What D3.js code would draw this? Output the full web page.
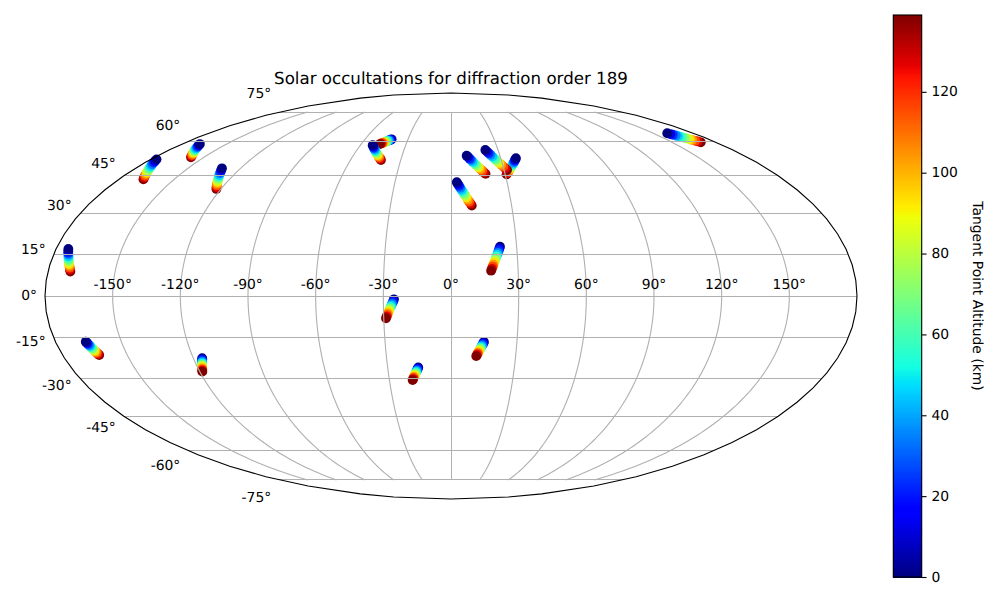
<!DOCTYPE html>
<html><head><meta charset="utf-8">
<script src="https://cdn.jsdelivr.net/npm/d3@7"></script>
<style>html,body{margin:0;padding:0;background:#fff}text{font-family:"DejaVu Sans";fill:#000;text-rendering:geometricPrecision}</style>
</head><body><svg id="c" width="1000" height="600"></svg>
<script>
const chartTitle = "Solar occultations for diffraction order 189";
const colorbarLabel = "Tangent Point Altitude (km)";
const longitudeTicks = [-150,-120,-90,-60,-30,0,30,60,90,120,150];
const latitudeTicks = [-75,-60,-45,-30,-15,0,15,30,45,60,75];
const colorbarTicks = [0,20,40,60,80,100,120];
const altitudeMax = 139;
const altitudes = [0,12,23,35,46,58,70,81,93,104,116,128,139];
const trackLon = [
[-176.5,-175.7,-174.9,-174.1,-173.2,-172.4,-171.6,-170.8,-170,-169.2,-168.3,-167.5,-166.7],
[-167.9,-167.1,-166.2,-165.4,-164.6,-163.7,-162.9,-162.1,-161.2,-160.4,-159.6,-158.7,-157.9],
[-130.6,-129.9,-129.2,-128.6,-127.9,-127.2,-126.5,-125.8,-125.1,-124.5,-123.8,-123.1,-122.4],
[-41.4,-41.9,-42.4,-42.9,-43.4,-43.9,-44.5,-45,-45.5,-46,-46.5,-47,-47.5],
[-51.9,-51.1,-50.2,-49.4,-48.5,-47.7,-46.9,-46,-45.2,-44.3,-43.5,-42.6,-41.8],
[9.6,10.4,11.2,12,12.8,13.6,14.4,15.2,16,16.8,17.6,18.4,19.2],
[39.2,38.5,37.8,37.1,36.4,35.7,35,34.3,33.6,32.9,32.2,31.5,30.8],
[21.9,22.7,23.5,24.4,25.2,26,26.8,27.6,28.4,29.2,30.1,30.9,31.7],
[3.1,3.7,4.3,4.9,5.5,6.1,6.7,7.3,7.9,8.5,9.1,9.7,10.3],
[160.4,161.2,161.9,162.7,163.4,164.2,165,165.7,166.5,167.2,168,168.7,169.5],
[-174.4,-174,-173.7,-173.3,-172.9,-172.6,-172.2,-171.8,-171.5,-171.1,-170.7,-170.4,-170],
[-166.2,-165.9,-165.7,-165.4,-165.1,-164.9,-164.6,-164.3,-164.1,-163.8,-163.5,-163.3,-163],
[-115.9,-116.1,-116.4,-116.6,-116.9,-117.1,-117.4,-117.6,-117.8,-118.1,-118.3,-118.6,-118.8],
[22.4,22,21.7,21.3,20.9,20.5,20.2,19.8,19.4,19,18.7,18.3,17.9],
[-25.3,-25.6,-25.9,-26.2,-26.5,-26.8,-27.2,-27.5,-27.8,-28.1,-28.4,-28.7,-29],
[15,14.7,14.5,14.2,13.9,13.6,13.4,13.1,12.8,12.5,12.3,12,11.7],
[-15.5,-15.8,-16,-16.3,-16.6,-16.8,-17.1,-17.4,-17.6,-17.9,-18.2,-18.4,-18.7]
];
const trackLat = [
[51.9,51.2,50.5,49.8,49.1,48.4,47.8,47.1,46.4,45.7,45,44.3,43.6],
[58.7,58.2,57.7,57.2,56.7,56.2,55.7,55.3,54.8,54.3,53.8,53.3,52.8],
[48.1,47.4,46.7,46,45.3,44.6,43.9,43.2,42.5,41.8,41.1,40.4,39.7],
[60.9,60.7,60.5,60.4,60.2,60,59.8,59.6,59.4,59.3,59.1,58.9,58.7],
[58.2,57.7,57.1,56.6,56,55.5,54.9,54.4,53.8,53.3,52.7,52.2,51.6],
[53.5,52.9,52.2,51.6,50.9,50.3,49.6,49,48.4,47.7,47.1,46.4,45.8],
[52.4,51.8,51.3,50.7,50.1,49.6,49,48.4,47.9,47.3,46.7,46.2,45.6],
[56,55.3,54.6,53.9,53.1,52.4,51.7,51,50.3,49.6,48.8,48.1,47.4],
[42.4,41.6,40.9,40.1,39.3,38.6,37.8,37,36.3,35.5,34.7,34,33.2],
[63.8,63.4,63.1,62.7,62.4,62,61.6,61.3,60.9,60.6,60.2,59.9,59.5],
[17,16.3,15.6,15,14.3,13.6,12.9,12.2,11.5,10.9,10.2,9.5,8.8],
[-16.5,-16.9,-17.3,-17.7,-18.1,-18.5,-19,-19.4,-19.8,-20.2,-20.6,-21,-21.4],
[-22.6,-23,-23.4,-23.9,-24.3,-24.7,-25.1,-25.5,-25.9,-26.4,-26.8,-27.2,-27.6],
[17.8,17.1,16.4,15.6,14.9,14.2,13.5,12.7,12,11.3,10.6,9.8,9.1],
[-1.2,-1.8,-2.3,-2.9,-3.5,-4,-4.6,-5.2,-5.7,-6.3,-6.9,-7.4,-8],
[-16.6,-17,-17.5,-17.9,-18.3,-18.8,-19.2,-19.6,-20.1,-20.5,-20.9,-21.4,-21.8],
[-26,-26.4,-26.8,-27.2,-27.6,-28,-28.4,-28.8,-29.2,-29.6,-30,-30.4,-30.8]
];
// 1 when a track was recorded from high to low altitude (low altitude ends up on top)
const topDown = [1,1,1,0,1,1,1,1,1,1,1,1,0,0,0,0,0];

const R = d3.scaleLinear().domain([0,.35,.66,.89,1]).range([0,0,1,1,.5]);
const G = d3.scaleLinear().domain([0,.125,.375,.64,.91,1]).range([0,0,1,1,0,0]);
const B = d3.scaleLinear().domain([0,.11,.34,.65,1]).range([.5,1,1,0,0]);
const norm = d3.scaleLinear().domain([0,altitudeMax]).range([0,1]).clamp(true);
const jet = a => { const t = norm(a); return d3.rgb(R(t)*255,G(t)*255,B(t)*255).formatHex(); };

function mollweideRaw(l, p) {
  let t = p;
  if (Math.abs(Math.abs(p) - Math.PI/2) < 1e-9) t = p;
  else for (let i = 0; i < 40; i++) {
    const d = (2*t + Math.sin(2*t) - Math.PI*Math.sin(p)) / (2 + 2*Math.cos(2*t));
    t -= d; if (Math.abs(d) < 1e-9) break;
  }
  return [2*Math.SQRT2/Math.PI*l*Math.cos(t), Math.SQRT2*Math.sin(t)];
}
const CX = 451, CY = 296, HALF_W = 406;
const projection = d3.geoProjection(mollweideRaw).scale(HALF_W/(2*Math.SQRT2)).translate([CX,CY]);
const svg = d3.select("#c");
const line = d3.line();
const GRID = "#b0b0b0", LW = 1.11;

// markers
const gMarks = svg.append("g");
trackLon.forEach((lons,i) => {
  const pts = lons.map((lon,j) => ({lon, lat:trackLat[i][j], alt:altitudes[j]}));
  if (topDown[i]) pts.reverse();
  gMarks.selectAll(null).data(pts).join("circle")
    .attr("cx",d=>projection([d.lon,d.lat])[0])
    .attr("cy",d=>projection([d.lon,d.lat])[1])
    .attr("r",4.9).attr("fill",d=>jet(d.alt));
});

// graticule
const gGrid = svg.append("g").attr("fill","none").attr("stroke",GRID).attr("stroke-width",LW);
latitudeTicks.forEach(lat => gGrid.append("path").attr("shape-rendering","crispEdges").attr("stroke-width",1)
  .attr("d", line(d3.range(-180,180.01,2).map(lon=>projection([lon,lat])))));
longitudeTicks.forEach(lon => gGrid.append("path")
  .attr("shape-rendering", lon === 0 ? "crispEdges" : "auto")
  .attr("stroke-width", lon === 0 ? 1 : LW)
  .attr("d", line(d3.range(-75,75.01,1).map(lat=>projection([lon,lat])))));

// outline
svg.append("path").datum({type:"Sphere"}).attr("d",d3.geoPath(projection))
  .attr("fill","none").attr("stroke","#000").attr("stroke-width",LW);

// tick labels
const FS = 13.89;
svg.append("g").selectAll("text").data(longitudeTicks).join("text")
  .attr("x",d=>projection([d,0])[0]).attr("y",CY-7).attr("text-anchor","middle")
  .attr("font-size",FS).text(d=>`${d}°`);
svg.append("g").selectAll("text").data(latitudeTicks).join("text")
  .attr("x",d=>projection([-179.999,d])[0]-8)
  .attr("y",d=>CY+(projection([0,d])[1]-CY)*1.1+4)
  .attr("text-anchor","end").attr("font-size",FS).text(d=>`${d}°`);

svg.append("text").attr("x",CX).attr("y",84).attr("text-anchor","middle")
  .attr("font-size",16.67).text(chartTitle);

// colour bar
const BX = 893.3, BW = 28.4, BT = 15, BB = 577;
const yBar = d3.scaleLinear().domain([0,altitudeMax]).range([BB,BT]);
const levels = d3.range(256).map(i=>i/256*altitudeMax);
const step = altitudeMax/256;
svg.append("g").attr("shape-rendering","crispEdges").selectAll("rect").data(levels).join("rect")
  .attr("x",BX).attr("width",BW)
  .attr("y",d=>yBar(d+step)).attr("height",d=>yBar(d)-yBar(d+step)+.5)
  .attr("fill",d=>jet(d+step/2));
svg.append("rect").attr("x",BX).attr("y",BT).attr("width",BW).attr("height",BB-BT)
  .attr("fill","none").attr("stroke","#000").attr("stroke-width",LW);
const axis = d3.axisRight(yBar).tickValues(colorbarTicks).tickSize(4.86).tickPadding(4.86).tickFormat(d=>d);
const gAxis = svg.append("g").attr("transform",`translate(${BX+BW},0)`).call(axis);
gAxis.select(".domain").remove();
gAxis.selectAll("line").attr("stroke","#000").attr("stroke-width",LW);
gAxis.selectAll("text").attr("font-size",FS).attr("font-family","DejaVu Sans").attr("dy","0.3em");
svg.append("text").attr("transform","translate(973,296) rotate(90)").attr("text-anchor","middle")
  .attr("font-size",FS).text(colorbarLabel);
</script></body></html>
